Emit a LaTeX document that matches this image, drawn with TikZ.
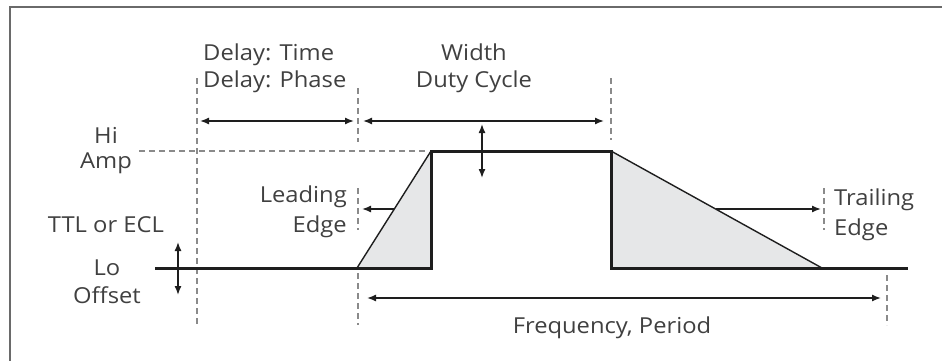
\documentclass[tikz,border=0pt]{standalone}
\usepackage{fontspec}
\setmainfont{Open Sans}[FakeStretch=1.08]
\usetikzlibrary{arrows.meta}
\definecolor{txt}{HTML}{404040}
\definecolor{wave}{HTML}{1E1E1E}
\definecolor{dash}{HTML}{8A8A8A}
\definecolor{shadegray}{HTML}{E6E7E8}
\definecolor{frame}{HTML}{6A6A6A}
\tikzset{
  lbl/.style={font=\fontsize{22}{28}\selectfont, text=txt, inner sep=0pt},
  guide/.style={draw=dash, line width=1.3pt, dash pattern=on 6pt off 4pt},
  wavethick/.style={draw=wave, line width=3pt, line join=miter},
  wavethin/.style={draw=wave, line width=1.4pt},
  dim/.style={draw=wave, line width=1.4pt, {Latex[length=9pt,width=7pt]}-{Latex[length=9pt,width=7pt]}},
  dimone/.style={draw=wave, line width=1.4pt, -{Latex[length=9pt,width=7pt]}},
}
\begin{document}
\begin{tikzpicture}[x=1pt,y=-1pt]
\useasboundingbox (0,0) rectangle (942,361);
% partial frame
\coordinate (fa) at (10,361);
\coordinate (fb) at (10,7);
\coordinate (fc) at (942,7);
\draw[frame, line width=1.6pt] (fa) -- (fb) -- (fc);

% key waveform points
\coordinate (w0) at (155,268);
\coordinate (rl) at (357,268);
\coordinate (rt) at (431,151);
\coordinate (rb) at (431,268);
\coordinate (ft) at (611,151);
\coordinate (fb2) at (611,268);
\coordinate (fe) at (822,268);
\coordinate (w9) at (908,268);

% shading
\fill[shadegray] (rl) -- (rt) -- (rb) -- cycle;
\fill[shadegray] (ft) -- (fe) -- (fb2) -- cycle;

% guides
\coordinate (g1a) at (197,78);  \coordinate (g1b) at (197,327);
\coordinate (g2a) at (358,88);  \coordinate (g2b) at (358,142);
\coordinate (g2c) at (358,188); \coordinate (g2d) at (358,230);
\coordinate (g2e) at (358,273); \coordinate (g2f) at (358,325);
\coordinate (g3a) at (611,78);  \coordinate (g3b) at (611,140);
\coordinate (g4a) at (824,188); \coordinate (g4b) at (824,230);
\coordinate (g5a) at (887,275); \coordinate (g5b) at (887,325);
\coordinate (gha) at (139,151); \coordinate (ghb) at (428,151);
\draw[guide] (g1a) -- (g1b);
\draw[guide] (g2a) -- (g2b);
\draw[guide] (g2c) -- (g2d);
\draw[guide] (g2e) -- (g2f);
\draw[guide] (g3a) -- (g3b);
\draw[guide] (g4a) -- (g4b);
\draw[guide] (g5a) -- (g5b);
\draw[guide] (gha) -- (ghb);

% waveform
\draw[wavethin] (rl) -- (rt);
\draw[wavethin] (ft) -- (fe);
\draw[wavethick] (w0) -- (rb) -- (rt) -- (ft) -- (fb2) -- (w9);

% dimension arrows
\coordinate (da) at (200,121); \coordinate (db) at (354,121);
\coordinate (wa) at (363,121); \coordinate (wb) at (604,121);
\coordinate (aa) at (482,124); \coordinate (ab) at (482,178);
\coordinate (la) at (394,209); \coordinate (lb) at (362,209);
\coordinate (ta) at (716,209); \coordinate (tb) at (821,209);
\coordinate (oa) at (178,242); \coordinate (ob) at (178,295);
\coordinate (pa) at (367,298); \coordinate (pb) at (881,298);
\draw[dim] (da) -- (db);
\draw[dim] (wa) -- (wb);
\draw[dim] (aa) -- (ab);
\draw[dimone] (la) -- (lb);
\draw[dimone] (ta) -- (tb);
\draw[dim] (oa) -- (ob);
\draw[dim] (pa) -- (pb);

% labels
\node[lbl, anchor=base west] (dtime) at (203,60) {Delay: Time};
\node[lbl, anchor=base west] (dphase) at (203,88) {Delay: Phase};
\node[lbl, anchor=base] (width) at (474,60) {Width};
\node[lbl, anchor=base] (duty) at (474,88) {Duty Cycle};
\node[lbl, anchor=base] (hi) at (106,143) {Hi};
\node[lbl, anchor=base] (amp) at (106,168) {Amp};
\node[lbl, anchor=base east] (lead) at (347,202) {Leading};
\node[lbl, anchor=base east] (ledge) at (347,232) {Edge};
\node[lbl, anchor=base] (ttl) at (106,232) {TTL or ECL};
\node[lbl, anchor=base] (lo) at (107,275) {Lo};
\node[lbl, anchor=base] (offset) at (107,303) {Offset};
\node[lbl, anchor=base west] (trail) at (834,205) {Trailing};
\node[lbl, anchor=base west] (tedge) at (834,235) {Edge};
\node[lbl, anchor=base] (freq) at (612,333) {Frequency, Period};
\end{tikzpicture}
\end{document}
